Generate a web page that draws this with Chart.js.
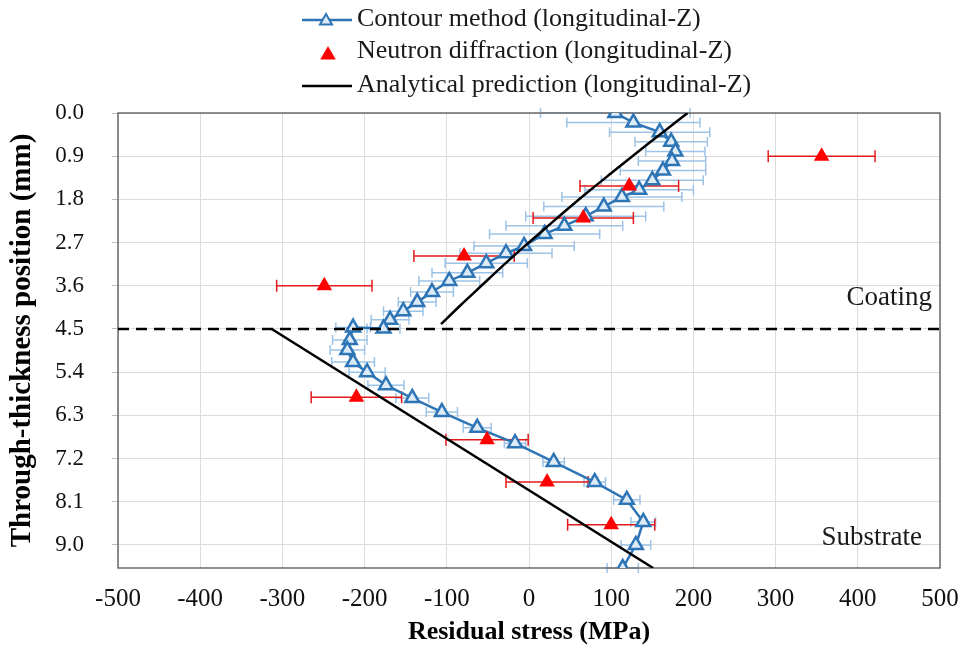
<!DOCTYPE html>
<html lang="en">
<head>
<meta charset="UTF-8">
<title>Residual stress through thickness</title>
<script src="https://cdn.jsdelivr.net/npm/chart.js"></script>
<style>
  body { margin: 0; background: #fff; }
</style>
</head>
<body>
<canvas id="stressChart" width="964" height="650"></canvas>
<script>
// contour method (longitudinal-Z): depth in mm, stress in MPa, error half-width in MPa
const contourDepth = [0.0, 0.2, 0.4, 0.6, 0.8, 1.0, 1.2, 1.4, 1.6, 1.75, 1.95, 2.15, 2.35, 2.52, 2.77, 2.92,
  3.13, 3.33, 3.5, 3.73, 3.94, 4.13, 4.31, 4.49, 4.47, 4.73, 4.94, 5.19, 5.4, 5.67, 5.94, 6.23, 6.56, 6.88,
  7.27, 7.69, 8.06, 8.52, 9.0, 9.48];
const contourStress = [105, 127, 159, 173, 178, 174, 163, 150, 134, 113, 91, 69, 43, 19, -6, -28,
  -52, -75, -97, -118, -136, -153, -169, -177, -214, -218, -221, -214, -197, -174, -142, -106, -63, -17,
  30, 80, 119, 139, 130, 114];
const contourError = [91, 81, 61, 44, 36, 41, 52, 62, 66, 73, 73, 73, 71, 67, 61, 56,
  50, 43, 37, 26, 23, 24, 23, 20, 21, 21, 21, 26, 22, 22, 20, 19, 17, 13,
  13, 13, 16, 15, 18, 19];

// neutron diffraction (longitudinal-Z)
const neutronDepth = [0.9, 1.52, 2.19, 2.98, 3.6, 5.92, 6.81, 7.69, 8.58];
const neutronStress = [356, 122, 66, -79, -249, -210, -51, 22, 100];
const neutronError = [65, 60, 61, 61, 58, 55, 50, 50, 53];

// analytical prediction (longitudinal-Z), coating and substrate parts
const coatingDepth = [0.0, 0.4, 0.8, 1.2, 1.6, 2.0, 2.4, 2.8, 3.2, 3.6, 4.0, 4.4];
const coatingStress = [193, 163, 133, 104, 75, 47, 20, -7, -33, -58, -83, -107];
const substrateDepth = [4.5, 9.48];
const substrateStress = [-313, 151];

// coating / substrate interface
const interfaceDepth = 4.5;

// axis ticks
const depthTicks = [0.0, 0.9, 1.8, 2.7, 3.6, 4.5, 5.4, 6.3, 7.2, 8.1, 9.0];
const stressTicks = [-500, -400, -300, -200, -100, 0, 100, 200, 300, 400, 500];
const depthMax = 9.48;

const legendLabels = [
  'Contour method (longitudinal-Z)',
  'Neutron diffraction (longitudinal-Z)',
  'Analytical prediction (longitudinal-Z)'
];

const FONT = '"Liberation Serif", "Times New Roman", serif';
const BLUE = '#2E75B6';
const BLUE_FILL = '#DDEBF7';
const BLUE_ERR = '#9DC3E6';
const RED = '#FF0000';
const RED_ERR = '#E31A1C';

const pts = (xs, ys) => xs.map((x, i) => ({ x: x, y: ys[i] }));

function triangle(ctx, x, y, r) {
  ctx.beginPath();
  ctx.moveTo(x, y - r);
  ctx.lineTo(x + r * Math.sqrt(3) / 2, y + r / 2);
  ctx.lineTo(x - r * Math.sqrt(3) / 2, y + r / 2);
  ctx.closePath();
}

// horizontal error bars, drawn under the markers
const errorBars = {
  id: 'errorBars',
  beforeDatasetsDraw(chart) {
    const { ctx, scales: { x, y } } = chart;
    const draw = (depth, stress, err, color, cap) => {
      ctx.strokeStyle = color;
      ctx.lineWidth = 1.5;
      depth.forEach((d, i) => {
        const py = y.getPixelForValue(d);
        const x0 = x.getPixelForValue(stress[i] - err[i]);
        const x1 = x.getPixelForValue(stress[i] + err[i]);
        ctx.beginPath();
        ctx.moveTo(x0, py); ctx.lineTo(x1, py);
        ctx.moveTo(x0, py - cap); ctx.lineTo(x0, py + cap);
        ctx.moveTo(x1, py - cap); ctx.lineTo(x1, py + cap);
        ctx.stroke();
      });
    };
    ctx.save();
    draw(contourDepth, contourStress, contourError, BLUE_ERR, 5);
    draw(neutronDepth, neutronStress, neutronError, RED_ERR, 6);
    // plot frame
    const a = chart.chartArea;
    ctx.strokeStyle = '#6b6b6b';
    ctx.lineWidth = 1.5;
    ctx.strokeRect(a.left, a.top, a.right - a.left, a.bottom - a.top);
    ctx.restore();
  }
};

// region labels and stacked legend
const extras = {
  id: 'extras',
  afterDraw(chart) {
    const { ctx, chartArea: a } = chart;
    ctx.save();
    ctx.fillStyle = '#1a1a1a';
    ctx.font = '27px ' + FONT;
    ctx.textAlign = 'right';
    ctx.textBaseline = 'middle';
    ctx.fillText('Coating', a.right - 8, 298);
    ctx.fillText('Substrate', a.right - 18, 538);

    ctx.textAlign = 'left';
    ctx.font = '26px ' + FONT;
    const rows = [19, 51, 85];
    rows.forEach((ry, i) => ctx.fillText(legendLabels[i], 357, ry));

    // contour symbol
    ctx.strokeStyle = BLUE; ctx.lineWidth = 2.5;
    ctx.beginPath(); ctx.moveTo(302, 20); ctx.lineTo(352, 20); ctx.stroke();
    ctx.fillStyle = BLUE_FILL; ctx.lineWidth = 2;
    triangle(ctx, 326, 21, 7); ctx.fill(); ctx.stroke();
    // neutron symbol
    ctx.fillStyle = RED;
    triangle(ctx, 328, 55, 9); ctx.fill();
    // analytical symbol
    ctx.strokeStyle = '#000'; ctx.lineWidth = 2.5;
    ctx.beginPath(); ctx.moveTo(302, 86); ctx.lineTo(352, 86); ctx.stroke();
    ctx.restore();
  }
};

Chart.defaults.font.family = FONT;
Chart.defaults.color = '#000';

new Chart(document.getElementById('stressChart'), {
  type: 'line',
  data: {
    datasets: [
      {
        label: legendLabels[1],
        data: pts(neutronStress, neutronDepth),
        showLine: false,
        pointStyle: 'triangle',
        pointRadius: 9,
        pointBackgroundColor: RED,
        pointBorderWidth: 0,
        borderColor: RED
      },
      {
        label: legendLabels[2],
        data: pts(coatingStress, coatingDepth),
        borderColor: '#000',
        borderWidth: 2.5,
        pointRadius: 0,
        tension: 0.3
      },
      {
        label: legendLabels[2] + ' substrate',
        data: pts(substrateStress, substrateDepth),
        borderColor: '#000',
        borderWidth: 2.5,
        pointRadius: 0
      },
      {
        label: 'interface',
        data: pts([stressTicks[0], stressTicks[stressTicks.length - 1]], [interfaceDepth, interfaceDepth]),
        borderColor: '#000',
        borderWidth: 2.5,
        borderDash: [11, 7],
        pointRadius: 0
      },
      {
        label: legendLabels[0],
        data: pts(contourStress, contourDepth),
        borderColor: BLUE,
        borderWidth: 2.5,
        pointStyle: 'triangle',
        pointRadius: 8,
        pointBackgroundColor: BLUE_FILL,
        pointBorderColor: BLUE,
        pointBorderWidth: 2.5
      }
    ]
  },
  options: {
    responsive: false,
    animation: false,
    layout: { padding: { top: 113, right: 24, left: 0, bottom: 0 } },
    plugins: {
      legend: { display: false },
      tooltip: { enabled: false }
    },
    scales: {
      x: {
        type: 'linear',
        min: stressTicks[0],
        max: stressTicks[stressTicks.length - 1],
        afterBuildTicks: s => { s.ticks = stressTicks.map(v => ({ value: v })); },
        afterFit: s => { s.height = 82; s.paddingLeft = 0; s.paddingRight = 0; },
        grid: { color: '#dcdcdc', drawTicks: false },
        border: { display: false },
        ticks: { padding: 16, font: { size: 25 }, color: '#111', callback: v => String(v) },
        title: {
          display: true, text: 'Residual stress (MPa)',
          font: { size: 26, weight: 'bold' }, padding: { top: 0, bottom: 2 }
        }
      },
      y: {
        type: 'linear',
        reverse: true,
        min: 0,
        max: depthMax,
        afterBuildTicks: s => { s.ticks = depthTicks.map(v => ({ value: v })); },
        afterFit: s => { s.width = 118; s.paddingTop = 0; s.paddingBottom = 0; },
        grid: { color: '#dcdcdc', tickColor: '#bdbdbd', tickLength: 6 },
        border: { display: false },
        ticks: { padding: 28, font: { size: 23 }, color: '#111', callback: v => v.toFixed(1) },
        title: {
          display: true, text: 'Through-thickness position (mm)',
          font: { size: 29, weight: 'bold' }, padding: { top: 5, bottom: 0 }
        }
      }
    }
  },
  plugins: [errorBars, extras]
});
</script>
</body>
</html>
